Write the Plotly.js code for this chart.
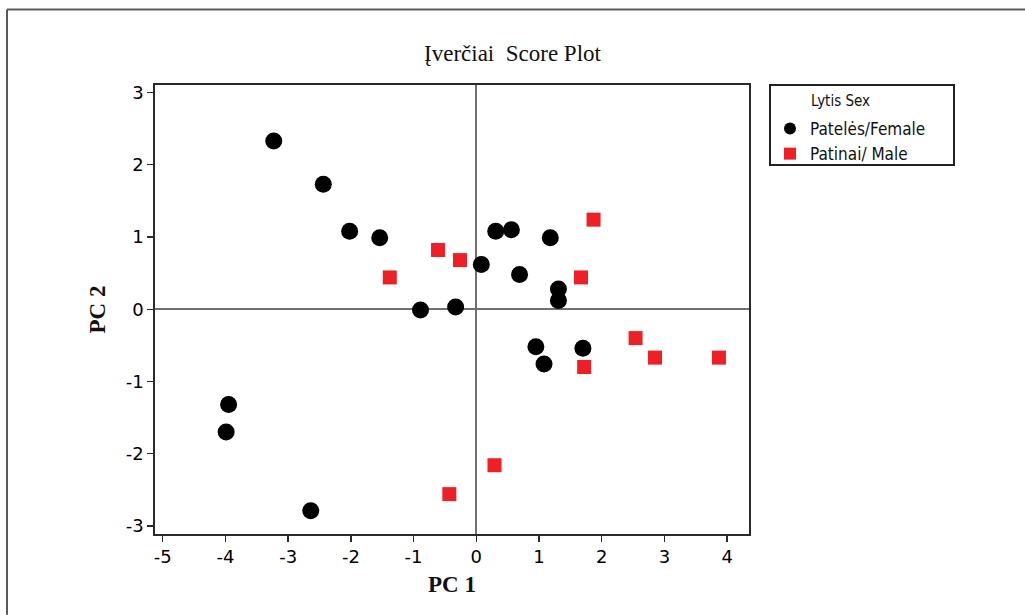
<!DOCTYPE html>
<html>
<head>
<meta charset="utf-8">
<script src="https://cdn.plot.ly/plotly-3.0.1.min.js"></script>
<style>
  html, body { margin: 0; padding: 0; background: #ffffff; overflow: hidden; }
  #chart { width: 1025px; height: 615px; }
</style>
</head>
<body>
<div id="chart"></div>
<script>
// ---- Data ----
const femaleName = "Patelės/Female";
const femaleX = [-3.23, -2.44, -2.02, -1.54, -0.89, -0.33, 0.08, 0.31, 0.56, 1.18, 0.69, 1.31, 1.31, 0.95, 1.08, 1.70, -3.95, -3.99, -2.64];
const femaleY = [2.33, 1.73, 1.08, 0.99, -0.01, 0.03, 0.62, 1.08, 1.10, 0.99, 0.48, 0.28, 0.12, -0.52, -0.76, -0.54, -1.32, -1.70, -2.79];

const maleName = "Patinai/ Male";
const maleX = [1.87, 1.67, 2.54, 2.85, 3.87, 1.72, -0.61, -0.26, -1.38, -0.43, 0.29];
const maleY = [1.24, 0.44, -0.40, -0.67, -0.67, -0.80, 0.82, 0.68, 0.44, -2.56, -2.16];

const xTickVals = [-5, -4, -3, -2, -1, 0, 1, 2, 3, 4];
const yTickVals = [-3, -2, -1, 0, 1, 2, 3];

const titleText = "Įverčiai&nbsp;&nbsp;Score Plot";
const xTitle = "<b>PC 1</b>";
const yTitle = "<b>PC 2</b>";
const legendTitle = "Lytis Sex";

// ---- Layout constants (pixels) ----
const W = 1025, H = 615;
const plotL = 155, plotR = 749, plotT = 85, plotB = 534.3;
const pw = plotR - plotL, ph = plotB - plotT;
const px = v => (v - plotL) / pw;
const py = v => (plotB - v) / ph;

const sansFont = "'DejaVu Sans', sans-serif";
const legendFont = "'DejaVu Sans Condensed', 'DejaVu Sans', sans-serif";
const serifFont = "'Liberation Serif', 'DejaVu Serif', serif";

const traces = [
  {
    type: "scatter", mode: "markers", name: femaleName,
    x: femaleX, y: femaleY,
    marker: { symbol: "circle", size: 17, color: "#000000" },
    cliponaxis: false
  },
  {
    type: "scatter", mode: "markers", name: maleName,
    x: maleX, y: maleY,
    marker: { symbol: "square", size: 14, color: "#ee1f25" },
    cliponaxis: false
  }
];

const layout = {
  width: W, height: H, autosize: false,
  paper_bgcolor: "#ffffff", plot_bgcolor: "#ffffff",
  margin: { l: plotL, r: W - plotR, t: plotT, b: H - plotB, pad: 0 },
  title: {
    text: titleText, xref: "container", x: 0.5, xanchor: "center",
    yref: "container", y: 1 - 53 / H, yanchor: "middle",
    font: { family: serifFont, size: 23, color: "#111111" }
  },
  xaxis: {
    range: [-5.124, 4.349], tickvals: xTickVals, ticktext: xTickVals.map(String),
    showgrid: false, zeroline: true, zerolinecolor: "#707070", zerolinewidth: 2,
    showline: true, linecolor: "#2a2a2a", linewidth: 1.8, mirror: true,
    ticks: "outside", ticklen: 6, tickwidth: 1.4, tickcolor: "#2a2a2a",
    tickfont: { family: sansFont, size: 18, color: "#000000" },
    title: { text: xTitle, standoff: 9, font: { family: serifFont, size: 23, color: "#111111" } },
    fixedrange: true
  },
  yaxis: {
    range: [-3.112, 3.104], tickvals: yTickVals, ticktext: yTickVals.map(String),
    showgrid: false, zeroline: true, zerolinecolor: "#707070", zerolinewidth: 2,
    showline: true, linecolor: "#2a2a2a", linewidth: 1.8, mirror: true,
    ticks: "outside", ticklen: 6, tickwidth: 1.4, tickcolor: "#2a2a2a",
    tickfont: { family: sansFont, size: 18, color: "#000000" },
    title: { text: yTitle, standoff: 13, font: { family: serifFont, size: 23, color: "#111111" } },
    fixedrange: true
  },
  showlegend: true,
  legend: {
    x: px(770), xanchor: "left", y: py(111), yanchor: "top",
    bgcolor: "rgba(0,0,0,0)", borderwidth: 0,
    font: { family: legendFont, size: 17, color: "#111111" },
    itemsizing: "constant", tracegroupgap: 0
  },
  shapes: [
    // outer frame: left edge
    {
      type: "line", xref: "paper", yref: "paper",
      x0: px(7), x1: px(7), y0: py(615), y1: py(9.5),
      line: { color: "#5a5a5a", width: 2 }
    },
    // outer frame: top edge
    {
      type: "line", xref: "paper", yref: "paper",
      x0: px(7), x1: px(1025), y0: py(9.5), y1: py(9.5),
      line: { color: "#5a5a5a", width: 2 }
    },
    // legend box
    {
      type: "rect", xref: "paper", yref: "paper",
      x0: px(770), x1: px(954), y0: py(165), y1: py(85),
      line: { color: "#222222", width: 2 }, fillcolor: "rgba(0,0,0,0)"
    }
  ],
  annotations: [
    {
      text: legendTitle, xref: "paper", yref: "paper",
      x: px(809), xanchor: "left", y: py(101), yanchor: "middle",
      showarrow: false, font: { family: legendFont, size: 15, color: "#111111" }
    }
  ]
};

Plotly.newPlot("chart", traces, layout, { displayModeBar: false, staticPlot: true });
</script>
</body>
</html>
